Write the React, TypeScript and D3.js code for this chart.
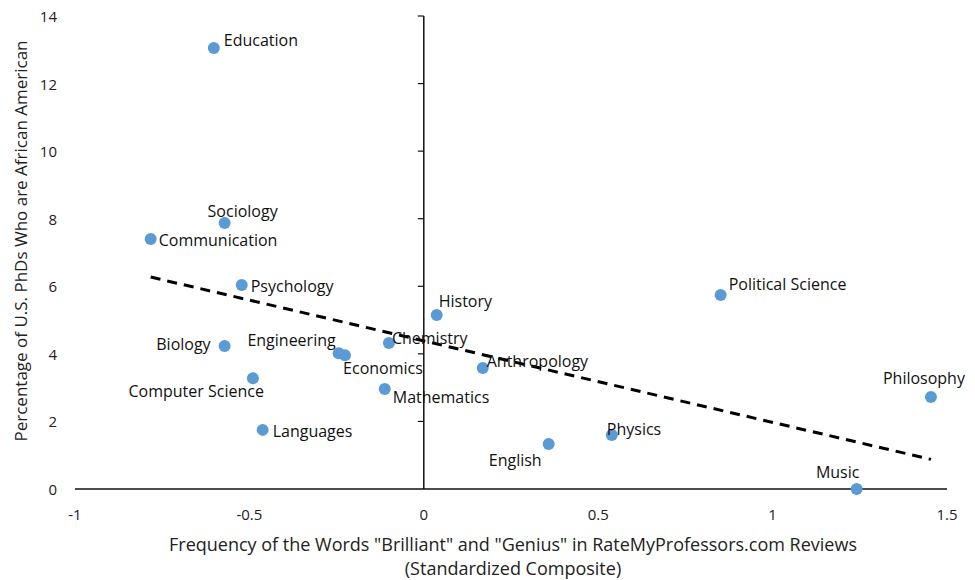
import React, { useEffect, useRef } from "react";
import * as d3 from "d3";

// fields and their values
const fields = [
  "Education", "Sociology", "Communication", "Psychology", "Biology",
  "Engineering", "Economics", "Chemistry", "History", "Computer Science",
  "Languages", "Mathematics", "Anthropology", "English", "Physics",
  "Political Science", "Philosophy", "Music",
];
const brilliance = [
  -0.602, -0.571, -0.783, -0.522, -0.571,
  -0.244, -0.226, -0.1, 0.037, -0.49,
  -0.462, -0.112, 0.169, 0.358, 0.539,
  0.851, 1.454, 1.241,
];
const pctAfricanAmerican = [
  13.05, 7.87, 7.4, 6.04, 4.23,
  4.02, 3.96, 4.32, 5.15, 3.28,
  1.75, 2.96, 3.58, 1.33, 1.6,
  5.74, 2.72, 0,
];
const xTicks = [-1, -0.5, 0, 0.5, 1, 1.5];
const yTicks = [0, 2, 4, 6, 8, 10, 12, 14];

// where each label sits relative to its dot
const labelPos = {
  Education: ["start", 10, -8],
  Sociology: ["middle", 18, -12],
  Communication: ["start", 8, 1],
  Psychology: ["start", 9, 1],
  Biology: ["end", -14, -2],
  Engineering: ["end", -3, -13],
  Economics: ["middle", 38, 13],
  Chemistry: ["start", 3, -5],
  History: ["start", 2, -14],
  "Computer Science": ["end", 11, 13],
  Languages: ["start", 10, 1],
  Mathematics: ["start", 8, 8],
  Anthropology: ["start", 4, -7],
  English: ["end", -7, 16],
  Physics: ["start", -5, -6],
  "Political Science": ["start", 8, -11],
  Philosophy: ["middle", -7, -19],
  Music: ["middle", -19, -17],
};

const FONT = "'Open Sans', Lato, sans-serif";

const App = () => {
  const svgRef = useRef();

  useEffect(() => {
    const svg = d3.select(svgRef.current);
    svg.selectAll("*").remove();

    const x = d3.scaleLinear().domain([-1, 1.5]).range([75, 947]);
    const y = d3.scaleLinear().domain([0, 14]).range([489, 16]);

    const data = fields.map((f, i) => ({ name: f, x: brilliance[i], y: pctAfricanAmerican[i] }));

    // y tick labels
    svg
      .append("g")
      .selectAll("text")
      .data(yTicks)
      .enter()
      .append("text")
      .attr("x", 57)
      .attr("y", (d) => y(d))
      .attr("text-anchor", "end")
      .attr("dominant-baseline", "central")
      .style("font-family", FONT)
      .style("font-size", "15px")
      .attr("fill", "#222")
      .text((d) => d);

    // x tick labels
    svg
      .append("g")
      .selectAll("text")
      .data(xTicks)
      .enter()
      .append("text")
      .attr("x", (d) => x(d))
      .attr("y", 514)
      .attr("text-anchor", "middle")
      .attr("dominant-baseline", "central")
      .style("font-family", FONT)
      .style("font-size", "15px")
      .attr("fill", "#222")
      .text((d) => d);

    // axis lines crossing at 0,0
    svg
      .append("line")
      .attr("x1", x(-1))
      .attr("x2", x(1.5))
      .attr("y1", y(0))
      .attr("y2", y(0))
      .attr("stroke", "#111")
      .attr("stroke-width", 1.5);
    svg
      .append("line")
      .attr("x1", x(0))
      .attr("x2", x(0))
      .attr("y1", y(0))
      .attr("y2", y(14))
      .attr("stroke", "#111")
      .attr("stroke-width", 1.5);
    svg
      .append("g")
      .selectAll("line")
      .data(yTicks.slice(1))
      .enter()
      .append("line")
      .attr("x1", x(0) - 6)
      .attr("x2", x(0))
      .attr("y1", (d) => y(d))
      .attr("y2", (d) => y(d))
      .attr("stroke", "#111")
      .attr("stroke-width", 1.2);

    // least squares trendline over the data range
    const mx = d3.mean(data, (d) => d.x);
    const my = d3.mean(data, (d) => d.y);
    const sxy = d3.sum(data, (d) => (d.x - mx) * (d.y - my));
    const sxx = d3.sum(data, (d) => (d.x - mx) * (d.x - mx));
    const slope = sxy / sxx;
    const icpt = my - slope * mx;
    const [x0, x1] = d3.extent(data, (d) => d.x);
    svg
      .append("path")
      .attr("d", d3.line()([[x(x0), y(icpt + slope * x0)], [x(x1), y(icpt + slope * x1)]]))
      .attr("stroke", "#000")
      .attr("stroke-width", 3)
      .attr("stroke-dasharray", "10,7")
      .attr("fill", "none");

    // dots
    svg
      .append("g")
      .selectAll("circle")
      .data(data)
      .enter()
      .append("circle")
      .attr("cx", (d) => x(d.x))
      .attr("cy", (d) => y(d.y))
      .attr("r", 6)
      .attr("fill", "#5B9BD5");

    // point labels
    svg
      .append("g")
      .selectAll("text")
      .data(data)
      .enter()
      .append("text")
      .attr("x", (d) => x(d.x) + labelPos[d.name][1])
      .attr("y", (d) => y(d.y) + labelPos[d.name][2])
      .attr("text-anchor", (d) => labelPos[d.name][0])
      .attr("dominant-baseline", "central")
      .style("font-family", FONT)
      .style("font-size", "16px")
      .attr("fill", "#111")
      .text((d) => d.name);

    // axis titles
    svg
      .append("text")
      .attr("transform", "translate(20,241) rotate(-90)")
      .attr("text-anchor", "middle")
      .attr("dominant-baseline", "central")
      .style("font-family", FONT)
      .style("font-size", "17px")
      .attr("fill", "#222")
      .text("Percentage of U.S. PhDs Who are African American");
    svg
      .append("text")
      .attr("x", 513)
      .attr("y", 544)
      .attr("text-anchor", "middle")
      .attr("dominant-baseline", "central")
      .style("font-family", FONT)
      .style("font-size", "18px")
      .attr("fill", "#222")
      .text('Frequency of the Words "Brilliant" and "Genius" in RateMyProfessors.com Reviews');
    svg
      .append("text")
      .attr("x", 513)
      .attr("y", 568)
      .attr("text-anchor", "middle")
      .attr("dominant-baseline", "central")
      .style("font-family", FONT)
      .style("font-size", "18px")
      .attr("fill", "#222")
      .text("(Standardized Composite)");
  }, []);

  return (
    <svg
      ref={svgRef}
      width={975}
      height={580}
      style={{ position: "absolute", left: 0, top: 0, background: "#fff" }}
    ></svg>
  );
};

export default App;
